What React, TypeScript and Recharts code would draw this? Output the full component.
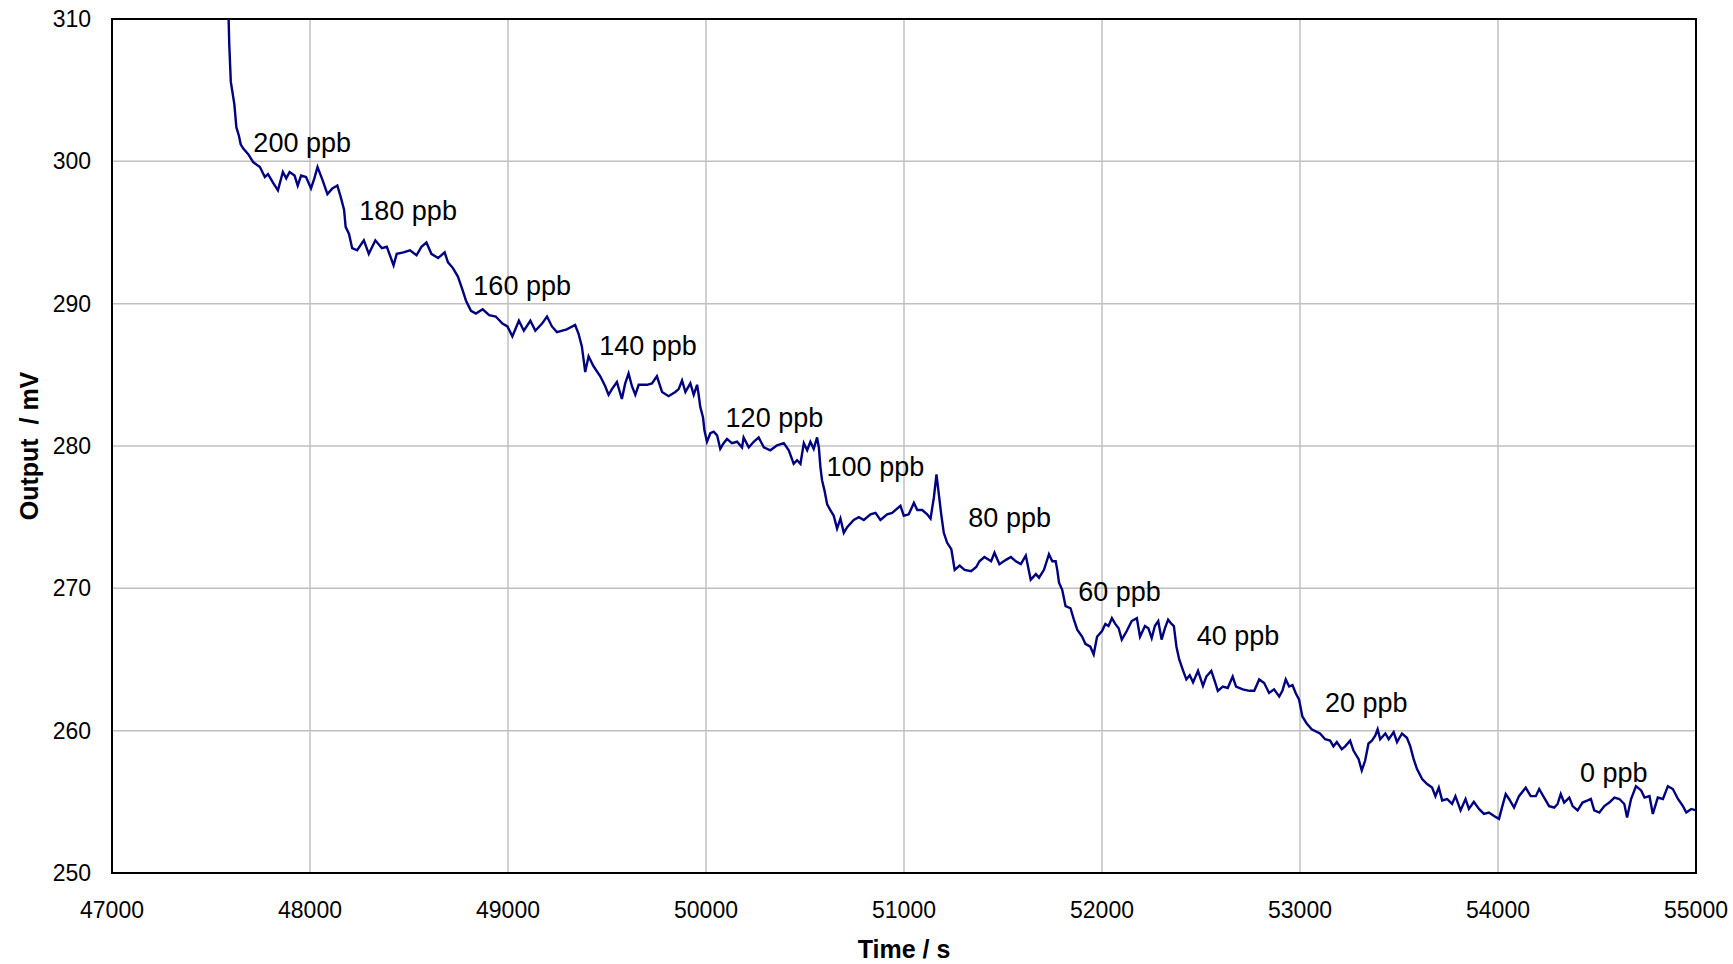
import React from "react";
import {
  ComposedChart,
  Line,
  XAxis,
  YAxis,
  CartesianGrid,
  ReferenceArea,
  ReferenceDot,
  Label,
} from "recharts";

const X_TICKS = [47000, 48000, 49000, 50000, 51000, 52000, 53000, 54000, 55000];
const Y_TICKS = [250, 260, 270, 280, 290, 300, 310];

// sensor trace
const TIME_S = [
  47589, 47592, 47600, 47618, 47628, 47641, 47650, 47663, 47688, 47713, 47747, 47772, 47788, 47813,
  47838, 47863, 47880, 47897, 47922, 47938, 47955, 47980, 48005, 48022, 48038, 48063, 48088, 48113,
  48138, 48155, 48172, 48180, 48197, 48213, 48238, 48272, 48297, 48330, 48363, 48388, 48422, 48438,
  48472, 48505, 48538, 48563, 48588, 48613, 48647, 48680, 48697, 48722, 48747, 48772, 48788, 48813,
  48838, 48872, 48905, 48938, 48972, 48997, 49022, 49055, 49080, 49113, 49138, 49172, 49197, 49222,
  49247, 49297, 49339, 49356, 49373, 49382, 49390, 49407, 49432, 49466, 49491, 49508, 49525, 49550,
  49575, 49592, 49609, 49626, 49643, 49660, 49702, 49727, 49752, 49778, 49811, 49845, 49862, 49879,
  49896, 49921, 49938, 49955, 49963, 49971, 49985, 49992, 50005, 50022, 50039, 50056, 50072, 50089,
  50106, 50131, 50157, 50182, 50190, 50216, 50241, 50266, 50292, 50325, 50359, 50393, 50418, 50443,
  50460, 50477, 50494, 50511, 50527, 50544, 50561, 50570, 50578, 50586, 50598, 50612, 50628, 50645,
  50662, 50679, 50696, 50713, 50746, 50772, 50797, 50831, 50856, 50881, 50915, 50940, 50982, 50999,
  51024, 51050, 51067, 51092, 51117, 51134, 51151, 51164, 51176, 51188, 51201, 51218, 51239, 51256,
  51281, 51306, 51339, 51365, 51381, 51406, 51440, 51457, 51482, 51515, 51540, 51565, 51590, 51615,
  51640, 51666, 51682, 51707, 51732, 51749, 51766, 51774, 51783, 51799, 51816, 51841, 51858, 51875,
  51900, 51916, 51941, 51958, 51975, 52000, 52017, 52033, 52050, 52067, 52084, 52100, 52125, 52150,
  52176, 52192, 52217, 52234, 52251, 52267, 52284, 52301, 52318, 52334, 52351, 52363, 52376, 52390,
  52410, 52426, 52443, 52460, 52485, 52510, 52527, 52552, 52569, 52585, 52610, 52635, 52660, 52677,
  52711, 52744, 52769, 52794, 52819, 52844, 52869, 52895, 52911, 52928, 52945, 52962, 52978, 52995,
  53012, 53034, 53059, 53101, 53127, 53152, 53169, 53186, 53211, 53228, 53253, 53270, 53296, 53312,
  53329, 53346, 53363, 53380, 53392, 53405, 53431, 53448, 53473, 53490, 53515, 53540, 53557, 53574,
  53591, 53617, 53642, 53667, 53684, 53701, 53718, 53743, 53768, 53785, 53811, 53836, 53853, 53878,
  53904, 53929, 53954, 53980, 54005, 54022, 54039, 54056, 54081, 54106, 54140, 54165, 54191, 54208,
  54233, 54258, 54284, 54301, 54317, 54334, 54360, 54377, 54402, 54427, 54453, 54469, 54486, 54512,
  54537, 54562, 54588, 54613, 54638, 54652, 54672, 54697, 54723, 54740, 54765, 54782, 54807, 54833,
  54858, 54883, 54909, 54934, 54951, 54976, 55000,
];

const OUTPUT_MV = [
  310.0, 308.3, 305.6, 304.0, 302.4, 301.8, 301.2, 300.9, 300.5, 299.95, 299.6, 298.9, 299.1, 298.5,
  297.96, 299.25, 298.8, 299.25, 299.0, 298.3, 299.0, 298.9, 298.1, 298.8, 299.6, 298.7, 297.7, 298.1,
  298.3, 297.5, 296.6, 295.4, 294.9, 293.9, 293.75, 294.45, 293.5, 294.45, 293.9, 294.0, 292.7, 293.5,
  293.6, 293.75, 293.4, 294.0, 294.3, 293.5, 293.2, 293.6, 292.9, 292.5, 291.9, 290.9, 290.2, 289.5,
  289.3, 289.6, 289.2, 289.1, 288.6, 288.4, 287.7, 288.8, 288.1, 288.8, 288.1, 288.6, 289.1, 288.4,
  288.0, 288.2, 288.5, 287.9, 287.0, 286.05, 285.2, 286.3, 285.6, 284.9, 284.2, 283.6, 284.0, 284.5,
  283.3, 284.4, 285.1, 284.2, 283.6, 284.3, 284.3, 284.4, 284.9, 283.8, 283.5, 283.8, 284.0, 284.6,
  283.8, 284.4, 283.6, 284.3, 283.6, 282.75, 282.0, 281.1, 280.3, 280.9, 281.0, 280.75, 279.8, 280.2,
  280.5, 280.2, 280.3, 279.9, 280.6, 279.9, 280.3, 280.6, 279.9, 279.7, 280.05, 280.2, 279.7, 278.75,
  279.0, 278.75, 280.2, 279.7, 280.3, 279.8, 280.6, 279.9, 278.5, 277.6, 276.9, 275.9, 275.5, 275.1,
  274.2, 274.9, 273.9, 274.3, 274.8, 275.0, 274.8, 275.2, 275.3, 274.8, 275.2, 275.3, 275.8, 275.1,
  275.2, 276.0, 275.5, 275.5, 275.2, 274.9, 276.4, 278.0, 276.6, 275.2, 273.9, 273.2, 272.75, 271.3,
  271.6, 271.3, 271.2, 271.5, 271.9, 272.2, 271.9, 272.5, 271.7, 272.0, 272.2, 271.9, 271.7, 272.3,
  270.6, 271.0, 270.75, 271.3, 272.4, 271.9, 271.9, 271.3, 270.4, 269.9, 268.75, 268.6, 267.8, 267.1,
  266.6, 266.1, 265.9, 265.35, 266.6, 267.0, 267.5, 267.35, 267.9, 267.5, 267.2, 266.4, 267.0, 267.7,
  267.9, 266.6, 267.35, 267.2, 266.5, 267.35, 267.7, 266.4, 267.2, 267.8, 267.5, 267.35, 265.9, 265.0,
  264.2, 263.6, 263.9, 263.4, 264.2, 263.15, 263.8, 264.2, 263.5, 262.8, 263.1, 263.0, 263.8, 263.1,
  262.9, 262.8, 262.8, 263.6, 263.35, 262.65, 262.9, 262.4, 262.8, 263.6, 263.1, 263.2, 262.65, 262.2,
  261.0, 260.5, 260.1, 259.8, 259.4, 259.3, 258.9, 259.2, 258.7, 258.9, 259.3, 258.6, 258.0, 257.2,
  257.9, 259.1, 259.3, 259.65, 260.1, 259.4, 259.8, 259.4, 259.9, 259.2, 259.8, 259.5, 258.9, 258.0,
  257.3, 256.6, 256.25, 256.0, 255.4, 256.0, 255.1, 255.2, 254.85, 255.4, 254.4, 255.2, 254.5, 255.0,
  254.5, 254.15, 254.25, 254.0, 253.8, 254.7, 255.55, 255.2, 254.6, 255.4, 256.0, 255.4, 255.4, 255.9,
  255.3, 254.7, 254.6, 254.85, 255.55, 254.95, 255.3, 254.7, 254.4, 254.95, 255.1, 255.2, 254.4, 254.25,
  254.7, 254.95, 255.3, 255.2, 254.85, 253.9, 255.2, 256.1, 255.8, 255.3, 255.4, 254.15, 255.3, 255.2,
  256.1, 255.9, 255.2, 254.7, 254.25, 254.5, 254.4,
];

const CONC_LABELS = ["200 ppb", "180 ppb", "160 ppb", "140 ppb", "120 ppb", "100 ppb", "80 ppb", "60 ppb", "40 ppb", "20 ppb", "0 ppb"];
const CONC_LABEL_TIME = [47714, 48249, 48825, 49461, 50099, 50609, 51325, 51880, 52478, 53126, 54414];
const CONC_LABEL_MV = [300.68, 295.88, 290.61, 286.39, 281.36, 277.91, 274.33, 269.13, 266.02, 261.33, 256.41];

const FONT = "Arial, 'Liberation Sans', sans-serif";

const data = TIME_S.map((t, i) => ({ t, v: OUTPUT_MV[i] }));

function XTick(props: any) {
  const { x, y, payload } = props;
  return (
    <text x={x} y={y + 45} textAnchor="middle" fontSize={23} fontFamily={FONT} fill="#000">
      {payload.value}
    </text>
  );
}

function YTick(props: any) {
  const { x, y, payload } = props;
  return (
    <text x={x - 21} y={y + 8} textAnchor="end" fontSize={23} fontFamily={FONT} fill="#000">
      {payload.value}
    </text>
  );
}

export default function App() {
  return (
    <div style={{ position: "absolute", left: 0, top: 0, background: "#fff" }}>
      <ComposedChart
        width={1733}
        height={964}
        data={data}
        margin={{ top: 19, right: 37, bottom: 11, left: 12 }}
      >
        <CartesianGrid stroke="#c0c0c0" strokeWidth={1.5} />
        <XAxis
          type="number"
          dataKey="t"
          domain={[47000, 55000]}
          ticks={X_TICKS}
          height={80}
          tickSize={0}
          tickMargin={0}
          axisLine={false}
          tickLine={false}
          tick={<XTick />}
          interval={0}
        >
          <Label
            content={(p: any) => (
              <text
                x={p.viewBox.x + p.viewBox.width / 2}
                y={p.viewBox.y + 85}
                textAnchor="middle"
                fontSize={25}
                fontWeight="bold"
                fontFamily={FONT}
                fill="#000"
              >
                Time / s
              </text>
            )}
          />
        </XAxis>
        <YAxis
          type="number"
          domain={[250, 310]}
          ticks={Y_TICKS}
          width={100}
          tickSize={0}
          tickMargin={0}
          axisLine={false}
          tickLine={false}
          tick={<YTick />}
          interval={0}
          allowDataOverflow
        >
          <Label
            content={(p: any) => {
              const cx = p.viewBox.x + 26;
              const cy = p.viewBox.y + p.viewBox.height / 2;
              return (
                <text
                  x={cx}
                  y={cy}
                  transform={`rotate(-90, ${cx}, ${cy})`}
                  textAnchor="middle"
                  fontSize={25}
                  fontWeight="bold"
                  fontFamily={FONT}
                  fill="#000"
                  style={{ whiteSpace: "pre" }}
                >
                  {"Output  / mV"}
                </text>
              );
            }}
          />
        </YAxis>
        <Line
          type="linear"
          dataKey="v"
          stroke="#000080"
          strokeWidth={2.4}
          dot={false}
          isAnimationActive={false}
        />
        <ReferenceArea
          x1={47000}
          x2={55000}
          y1={250}
          y2={310}
          fill="none"
          stroke="#000"
          strokeWidth={2}
          ifOverflow="visible"
        />
        {CONC_LABELS.map((txt, i) => (
          <ReferenceDot
            key={txt}
            x={CONC_LABEL_TIME[i]}
            y={CONC_LABEL_MV[i]}
            ifOverflow="visible"
            shape={(p: any) => (
              <text x={p.cx} y={p.cy} fontSize={27} fontFamily={FONT} fill="#000">
                {txt}
              </text>
            )}
          />
        ))}
      </ComposedChart>
    </div>
  );
}
